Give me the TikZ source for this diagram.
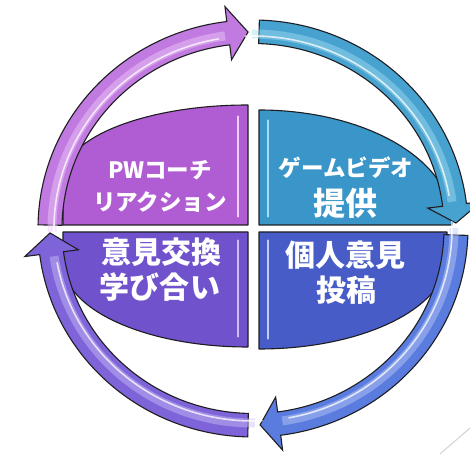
\documentclass[tikz,border=0pt]{standalone}
\usepackage{fontspec}
\newfontfamily\jpfont{Noto Sans CJK JP}
\definecolor{tlfill}{RGB}{176,92,210}
\definecolor{tlarrow}{RGB}{192,122,224}
\definecolor{tlshine}{RGB}{240,205,250}
\definecolor{trfill}{RGB}{58,150,200}
\definecolor{trarrow}{RGB}{72,162,208}
\definecolor{trshine}{RGB}{165,222,242}
\definecolor{blfill}{RGB}{112,82,204}
\definecolor{blarrow}{RGB}{126,100,216}
\definecolor{blshine}{RGB}{205,190,248}
\definecolor{brfill}{RGB}{72,92,200}
\definecolor{brarrow}{RGB}{90,124,222}
\definecolor{brshine}{RGB}{190,205,248}
\definecolor{edge}{RGB}{30,30,34}
\tikzset{
  quadrant/.style={draw=edge, line width=1.1pt, line join=round},
  ringarrow/.style={draw=edge, line width=1.1pt, line join=miter},
  bevel/.style={line width=2.2pt, line cap=round},
  small/.style={text=white, inner sep=0pt, font=\jpfont\bfseries\fontsize{22.5}{26}\selectfont},
  big/.style={text=white, inner sep=0pt, font=\jpfont\bfseries\fontsize{30}{34}\selectfont},
  bigger/.style={big, font=\jpfont\bfseries\fontsize{32}{36}\selectfont}
}
% ring radii (outer, middle, inner)
\newcommand{\rxo}{215}\newcommand{\ryo}{208.5}
\newcommand{\rxm}{203}\newcommand{\rym}{196.5}
\newcommand{\rxi}{191}\newcommand{\ryi}{185}
% start angle, head base angle, tip angle, fill, shine
\newcommand{\cyclearrow}[5]{%
  \filldraw[ringarrow, fill=#4]
    ({\rxo*cos(#1)},{\ryo*sin(#1)})
    arc[start angle=#1, end angle=#2, x radius=\rxo pt, y radius=\ryo pt]
    -- ({(\rxo+15)*cos(#2)},{(\ryo+15)*sin(#2)})
    -- ({\rxm*cos(#3)},{\rym*sin(#3)})
    -- ({(\rxi-15)*cos(#2)},{(\ryi-15)*sin(#2)})
    -- ({\rxi*cos(#2)},{\ryi*sin(#2)})
    arc[start angle=#2, end angle=#1, x radius=\rxi pt, y radius=\ryi pt]
    -- cycle;
  \draw[#5, line width=9pt, opacity=0.45]
    ({(\rxm-2)*cos(#1+2)},{(\rym-2)*sin(#1+2)})
    arc[start angle=#1+2, end angle=#2+1, x radius=\rxm pt-2pt, y radius=\rym pt-2pt];
  \draw[white, line width=1.6pt, line cap=round, opacity=0.75]
    ({(\rxm-4)*cos(#1+4)},{(\rym-4)*sin(#1+4)})
    arc[start angle=#1+4, end angle=#2+3, x radius=\rxm pt-4pt, y radius=\rym pt-4pt];
}
\begin{document}
\begin{tikzpicture}[x=1pt,y=1pt]
  \useasboundingbox (-253,-225.5) rectangle (217,228.5);

  % quadrants
  \filldraw[quadrant, fill=tlfill] (-5,3.5) -- (-190,3.5) -- (-190,50.5)
    arc[start angle=180, end angle=90, x radius=185pt, y radius=73pt] -- cycle;
  \filldraw[quadrant, fill=trfill] (6,3.5) -- (6,118.5)
    arc[start angle=90, end angle=0, x radius=193pt, y radius=112pt] -- (199,3.5) -- cycle;
  \filldraw[quadrant, fill=blfill] (-5,-3.5) -- (-190,-3.5) -- (-190,-34.5)
    arc[start angle=180, end angle=270, x radius=185pt, y radius=84pt] -- cycle;
  \filldraw[quadrant, fill=brfill] (6,-3.5) -- (194,-3.5) -- (194,-28.5)
    arc[start angle=0, end angle=-90, x radius=188pt, y radius=92pt] -- cycle;

  \draw[bevel, tlshine] (-15,112) -- (-15,12);
  \draw[bevel, trshine] (15,108) -- (15,12);
  \draw[bevel, blshine] (-15,-12) -- (-15,-108);
  \draw[bevel, brshine] (15,-12) -- (15,-110);

  % ring of arrows
  \cyclearrow{179}{97}{91.4}{tlarrow}{tlshine}
  \cyclearrow{88.3}{6.9}{1.6}{trarrow}{trshine}
  \cyclearrow{-1.9}{-82.6}{-88}{brarrow}{brshine}
  \cyclearrow{-91.4}{-172.8}{-178.7}{blarrow}{blshine}

  % labels
  \node[small] at (-93,58.5) (pwcoach) {PWコーチ};
  \node[small] at (-93,26.5) (reaction) {リアクション};
  \node[small] at (93,60.5) (gamevideo) {ゲームビデオ};
  \node[bigger] at (92,25.5) (provide) {提供};
  \node[big] at (-91,-23.5) (exchange) {意見交換};
  \node[big] at (-93,-58.5) (learn) {学び合い};
  \node[big] at (92,-26.5) (opinion) {個人意見};
  \node[big] at (93,-61.5) (post) {投稿};

  \coordinate (cornera) at (187,-225.5);
  \coordinate (cornerb) at (217,-199.5);
  \draw[gray!35, line width=1pt] (cornera) -- (cornerb);
\end{tikzpicture}
\end{document}
